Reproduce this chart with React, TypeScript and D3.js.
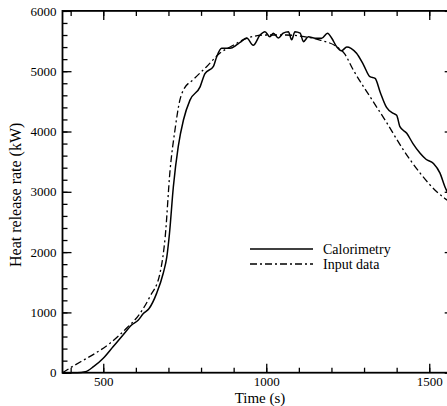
import React, { useEffect, useRef } from 'react';
import * as d3 from 'd3';

// Time (s), heat release rate (kW)
const calorimetry: [number, number][] = [
  [375, 0], [420, 0], [445, 15], [470, 100], [500, 240], [530, 430], [560, 620],
  [587, 790], [607, 870], [623, 980], [640, 1060], [664, 1320], [684, 1650],
  [695, 1920], [703, 2300], [715, 3080], [730, 3750], [746, 4190], [766, 4520],
  [797, 4740], [812, 4960], [838, 5080], [848, 5240], [863, 5380], [889, 5380],
  [910, 5440], [925, 5500], [940, 5550], [960, 5430], [981, 5600], [996, 5655],
  [1011, 5570], [1022, 5630], [1037, 5550], [1052, 5630], [1068, 5655], [1078, 5520],
  [1088, 5655], [1104, 5630], [1114, 5490], [1129, 5570], [1150, 5546], [1170, 5546],
  [1188, 5630], [1201, 5546], [1216, 5406], [1231, 5340], [1247, 5400], [1260, 5380],
  [1277, 5297], [1298, 5110], [1318, 4909], [1334, 4880], [1349, 4660], [1369, 4400],
  [1390, 4300], [1400, 4270], [1410, 4080], [1431, 3970], [1450, 3800], [1472, 3640],
  [1490, 3540], [1513, 3470], [1533, 3310], [1548, 3085], [1560, 2950], [1575, 2850],
];

const inputData: [number, number][] = [
  [375, 0], [408, 110], [440, 210], [469, 300], [521, 490], [572, 740], [613, 985],
  [643, 1260], [674, 1650], [690, 2250], [705, 3360], [720, 4025], [735, 4520],
  [746, 4690], [776, 4860], [817, 5075], [858, 5300], [899, 5430], [940, 5546],
  [1000, 5600], [1060, 5600], [1120, 5570], [1165, 5517], [1216, 5406], [1240, 5290],
  [1267, 5020], [1318, 4580], [1369, 4150], [1420, 3700], [1472, 3310], [1523, 3000],
  [1548, 2890], [1575, 2790],
];

const xMajor = [500, 1000, 1500];
const xMinor = d3.range(400, 1600, 100);
const yMajor = [0, 1000, 2000, 3000, 4000, 5000, 6000];
const yMinor = d3.range(0, 6001, 200);

const legendItems = [
  { label: 'Calorimetry', dash: null },
  { label: 'Input data', dash: '7,3,2,3' },
];

const FONT = '"Liberation Serif", "Times New Roman", serif';

const App = () => {
  const svgRef = useRef<SVGSVGElement>(null);

  useEffect(() => {
    const svg = d3.select(svgRef.current);
    svg.selectAll('*').remove();

    const x = d3.scaleLinear().domain([375, 1575]).range([62.5, 453.7]);
    const y = d3.scaleLinear().domain([0, 6000]).range([372.7, 10.9]);
    const [x0, x1] = x.range();
    const [y0, y1] = y.range();

    const line = d3.line<[number, number]>()
      .x(d => x(d[0]))
      .y(d => y(d[1]))
      .curve(d3.curveMonotoneX);

    svg.append('path')
      .datum(inputData)
      .attr('fill', 'none')
      .attr('stroke', 'black')
      .attr('stroke-width', 1.3)
      .attr('stroke-dasharray', '7,3,2,3')
      .attr('d', line);

    svg.append('path')
      .datum(calorimetry)
      .attr('fill', 'none')
      .attr('stroke', 'black')
      .attr('stroke-width', 1.5)
      .attr('d', line);

    const styleAxis = (g: any) => {
      g.select('.domain').remove();
      g.selectAll('line').attr('stroke', 'black').attr('stroke-width', 1.3);
      g.selectAll('text')
        .attr('font-family', FONT)
        .attr('font-size', 13)
        .attr('fill', 'black');
    };

    // bottom
    svg.append('g').attr('transform', `translate(0,${y0})`)
      .call(d3.axisBottom(x).tickValues(xMinor).tickSize(-5).tickFormat(() => ''))
      .call(styleAxis);
    svg.append('g').attr('transform', `translate(0,${y0})`)
      .call(d3.axisBottom(x).tickValues(xMajor).tickSize(-9).tickPadding(4).tickFormat(d3.format('d')))
      .call(styleAxis);
    // top
    svg.append('g').attr('transform', `translate(0,${y1})`)
      .call(d3.axisTop(x).tickValues(xMinor).tickSize(-5).tickFormat(() => ''))
      .call(styleAxis);
    svg.append('g').attr('transform', `translate(0,${y1})`)
      .call(d3.axisTop(x).tickValues(xMajor).tickSize(-9).tickFormat(() => ''))
      .call(styleAxis);
    // left
    svg.append('g').attr('transform', `translate(${x0},0)`)
      .call(d3.axisLeft(y).tickValues(yMinor).tickSize(-5).tickFormat(() => ''))
      .call(styleAxis);
    svg.append('g').attr('transform', `translate(${x0},0)`)
      .call(d3.axisLeft(y).tickValues(yMajor).tickSize(-9).tickPadding(6).tickFormat(d3.format('d')))
      .call(styleAxis);
    // right
    svg.append('g').attr('transform', `translate(${x1},0)`)
      .call(d3.axisRight(y).tickValues(yMinor).tickSize(-5).tickFormat(() => ''))
      .call(styleAxis);
    svg.append('g').attr('transform', `translate(${x1},0)`)
      .call(d3.axisRight(y).tickValues(yMajor).tickSize(-9).tickFormat(() => ''))
      .call(styleAxis);

    // frame
    svg.append('rect')
      .attr('x', x0).attr('y', y1)
      .attr('width', x1 - x0).attr('height', y0 - y1)
      .attr('fill', 'none')
      .attr('stroke', 'black')
      .attr('stroke-width', 1.8);

    // axis labels
    svg.append('text')
      .attr('x', 260)
      .attr('y', 402.5)
      .attr('text-anchor', 'middle')
      .attr('font-family', FONT)
      .attr('font-size', 15)
      .text('Time (s)');

    svg.append('text')
      .attr('transform', `rotate(-90)`)
      .attr('x', -(y0 + y1) / 2 - 3)
      .attr('y', 21)
      .attr('text-anchor', 'middle')
      .attr('font-family', FONT)
      .attr('font-size', 16)
      .text('Heat release rate (kW)');

    // legend
    const legend = svg.append('g').attr('transform', 'translate(250,249)');
    legendItems.forEach((item, i) => {
      const row = legend.append('g').attr('transform', `translate(0,${i * 15})`);
      row.append('line')
        .attr('x1', 0).attr('x2', 63)
        .attr('y1', 0).attr('y2', 0)
        .attr('stroke', 'black')
        .attr('stroke-width', 1.5)
        .attr('stroke-dasharray', item.dash ?? null);
      row.append('text')
        .attr('x', 73)
        .attr('y', 5)
        .attr('font-family', FONT)
        .attr('font-size', 14)
        .text(item.label);
    });
  }, []);

  return (
    <svg
      ref={svgRef}
      width={447}
      height={406}
      style={{ position: 'absolute', left: 0, top: 0, background: 'white' }}
    />
  );
};

export default App;
